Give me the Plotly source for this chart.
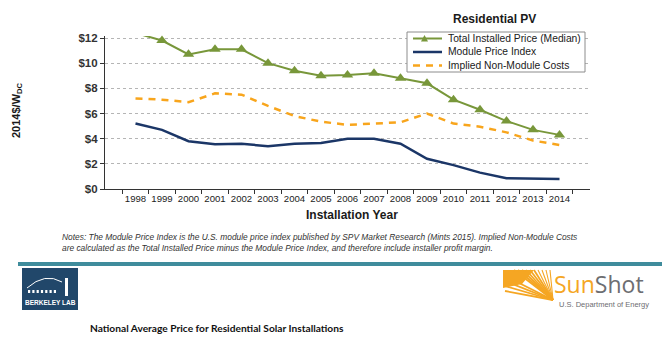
import plotly.graph_objects as go

# ---- data -----------------------------------------------------------------
years = [str(y) for y in range(1998, 2015)]
total_installed = [12.4, 11.8, 10.7, 11.1, 11.1, 10.0, 9.4, 9.0, 9.05, 9.2,
                   8.8, 8.4, 7.1, 6.3, 5.4, 4.7, 4.3]
module_index = [5.2, 4.7, 3.8, 3.55, 3.6, 3.4, 3.6, 3.65, 4.0, 4.0,
                3.6, 2.4, 1.9, 1.3, 0.85, 0.85, 0.8]
non_module = [7.2, 7.1, 6.9, 7.6, 7.5, 6.6, 5.8, 5.35, 5.1, 5.2,
              5.3, 6.0, 5.2, 4.95, 4.5, 3.85, 3.5]
y_ticks = [0, 2, 4, 6, 8, 10, 12]
y_labels = ["$0", "$2", "$4", "$6", "$8", "$10", "$12"]

series_names = ["Total Installed Price (Median)", "Module Price Index",
                "Implied Non-Module Costs"]

GREEN = "#78973a"
NAVY = "#1b3667"
ORANGE = "#f8a51c"
FONT = "Liberation Sans"

W, H = 671, 345
ML, MR, MT, MB = 105, 81, 36, 156
PW, PH = W - ML - MR, H - MT - MB


def px(x):
    return (x - ML) / PW


def py(y):
    return (H - MB - y) / PH


fig = go.Figure()
fig.add_trace(go.Scatter(x=years, y=total_installed, mode="lines+markers",
                         name=series_names[0], cliponaxis=False,
                         line=dict(color=GREEN, width=2),
                         marker=dict(symbol="triangle-up", size=10, color=GREEN)))
fig.add_trace(go.Scatter(x=years, y=module_index, mode="lines",
                         name=series_names[1], cliponaxis=False,
                         line=dict(color=NAVY, width=2.5)))
fig.add_trace(go.Scatter(x=years, y=non_module, mode="lines",
                         name=series_names[2], cliponaxis=False,
                         line=dict(color=ORANGE, width=2.5, dash="7px,6px")))

shapes = []
annotations = []

# legend drawn as a boxed key in the upper right of the plot
lx0, lx1, ly0, ly1 = 407, 585, 32, 72
shapes.append(dict(type="rect", xref="paper", yref="paper",
                   x0=px(lx0), x1=px(lx1), y0=py(ly1), y1=py(ly0),
                   line=dict(color="#8c8c8c", width=1), fillcolor="white",
                   layer="above"))
rows = [38.5, 52, 65.5]
styles = [dict(color=GREEN, width=2), dict(color=NAVY, width=2.5),
          dict(color=ORANGE, width=2.5, dash="7px,6px")]
for name, ry, st in zip(series_names, rows, styles):
    shapes.append(dict(type="line", xref="paper", yref="paper",
                       x0=px(413), x1=px(442), y0=py(ry), y1=py(ry),
                       line=st, layer="above"))
    annotations.append(dict(text=name, xref="paper", yref="paper",
                            x=px(446), y=py(ry), xanchor="left", yanchor="middle",
                            showarrow=False, font=dict(family=FONT, size=10.3, color="#1a1a1a")))
shapes.append(dict(type="path", xref="paper", yref="paper", layer="above",
                   path="M {} {} L {} {} L {} {} Z".format(
                       px(424.5), py(35), px(421), py(41.5), px(428), py(41.5)),
                   fillcolor=GREEN, line=dict(width=0)))

annotations.append(dict(text="<b>Residential PV</b>", xref="paper", yref="paper",
                        x=px(494), y=py(19), xanchor="center", yanchor="middle",
                        showarrow=False, font=dict(family=FONT, size=12, color="#1a1a1a")))
annotations.append(dict(text="<b>Installation Year</b>", xref="paper", yref="paper",
                        x=px(352), y=py(215), xanchor="center", yanchor="middle",
                        showarrow=False, font=dict(family=FONT, size=12, color="#1a1a1a")))
annotations.append(dict(text="<b>2014$/W<sub>DC</sub></b>", xref="paper", yref="paper",
                        x=px(17), y=py(110), xanchor="center", yanchor="middle",
                        textangle=-90, showarrow=False,
                        font=dict(family=FONT, size=11, color="#1a1a1a")))

notes = ("<i>Notes: The Module Price Index is the U.S. module price index published by SPV "
         "Market Research (Mints 2015). Implied Non-Module Costs<br>are calculated as the "
         "Total Installed Price minus the Module Price Index, and therefore include installer "
         "profit margin.</i>")
annotations.append(dict(text=notes, xref="paper", yref="paper", x=px(60), y=py(230),
                        xanchor="left", yanchor="top", align="left", showarrow=False,
                        font=dict(family=FONT, size=8.4, color="#333333")))

# teal divider
shapes.append(dict(type="rect", xref="paper", yref="paper", x0=px(18), x1=px(662),
                   y0=py(266), y1=py(262), fillcolor="#3f8c9c", line=dict(width=0)))

# Berkeley Lab badge
shapes.append(dict(type="rect", xref="paper", yref="paper", x0=px(22), x1=px(78),
                   y0=py(310), y1=py(268), fillcolor="#21476a", line=dict(width=0)))
shapes.append(dict(type="path", xref="paper", yref="paper",
                   path="M {} {} Q {} {} {} {}".format(px(27), py(288), px(45), py(272),
                                                        px(62), py(282)),
                   line=dict(color="white", width=1)))
for i in range(7):
    xx = 28 + i * 4.3
    shapes.append(dict(type="rect", xref="paper", yref="paper", x0=px(xx), x1=px(xx + 2.2),
                       y0=py(293), y1=py(290), fillcolor="white", line=dict(width=0)))
shapes.append(dict(type="rect", xref="paper", yref="paper", x0=px(65), x1=px(68),
                   y0=py(296), y1=py(278), fillcolor="white", line=dict(width=0)))
annotations.append(dict(text="<b>BERKELEY LAB</b>", xref="paper", yref="paper",
                        x=px(50), y=py(302.5), xanchor="center", yanchor="middle",
                        showarrow=False, font=dict(family=FONT, size=6.5, color="white")))

# SunShot mark: solid wedge on the upper left breaking into rays toward the lower right
cx, cy = 553, 300
shapes.append(dict(type="path", xref="paper", yref="paper",
                   path="M {} {} L {} {} L {} {} L {} {} Z".format(
                       px(503), py(270), px(534), py(270), px(522), py(284), px(503), py(288)),
                   fillcolor="#f5a623", line=dict(width=0)))
for k in range(10):
    tx = 514 + k * 4.0
    shapes.append(dict(type="line", xref="paper", yref="paper",
                       x0=px(cx), y0=py(cy), x1=px(tx), y1=py(270),
                       line=dict(color="#f5a623", width=1.8 if k < 6 else 1.1)))
for k in range(4):
    ty = 276 + k * 5
    shapes.append(dict(type="line", xref="paper", yref="paper",
                       x0=px(cx), y0=py(cy), x1=px(505), y1=py(ty),
                       line=dict(color="#f5a623", width=1.8)))
annotations.append(dict(text="<span style='color:#f5a623'>Sun</span><span style='color:#6d6e71'>Shot</span>",
                        xref="paper", yref="paper", x=px(552), y=py(284),
                        xanchor="left", yanchor="middle", showarrow=False,
                        font=dict(family="Open Sans", size=23)))
annotations.append(dict(text="U.S. Department of Energy", xref="paper", yref="paper",
                        x=px(557), y=py(304.5), xanchor="left", yanchor="middle",
                        showarrow=False, font=dict(family=FONT, size=7.5, color="#6d6e71")))

annotations.append(dict(text="<b>National Average Price for Residential Solar Installations</b>",
                        xref="paper", yref="paper", x=px(88), y=py(328),
                        xanchor="left", yanchor="middle", showarrow=False,
                        font=dict(family="Lato", size=10.2, color="#111111")))

fig.update_layout(
    width=W, height=H,
    margin=dict(l=ML, r=MR, t=MT, b=MB),
    paper_bgcolor="white", plot_bgcolor="white",
    showlegend=False,
    font=dict(family=FONT, color="#222222"),
    shapes=shapes, annotations=annotations,
    xaxis=dict(type="category", tickson="boundaries", ticks="outside", ticklen=4,
               tickangle=0,
               tickcolor="#333333", showline=True, linecolor="#333333", linewidth=1.2,
               showgrid=False, tickfont=dict(size=9.6, color="#222222"),
               fixedrange=True),
    yaxis=dict(range=[0, PH / (151 / 12)], tickvals=y_ticks,
               ticktext=["<b>%s</b>" % t for t in y_labels],
               ticks="outside", ticklen=4, tickcolor="#333333",
               showline=True, linecolor="#333333", linewidth=1.2,
               showgrid=True, gridcolor="#b5b5b5", griddash="dot", gridwidth=1,
               zeroline=False, tickfont=dict(size=11.5, color="#333333"),
               fixedrange=True),
)

fig.write_html("out.html", config={"displayModeBar": False})
